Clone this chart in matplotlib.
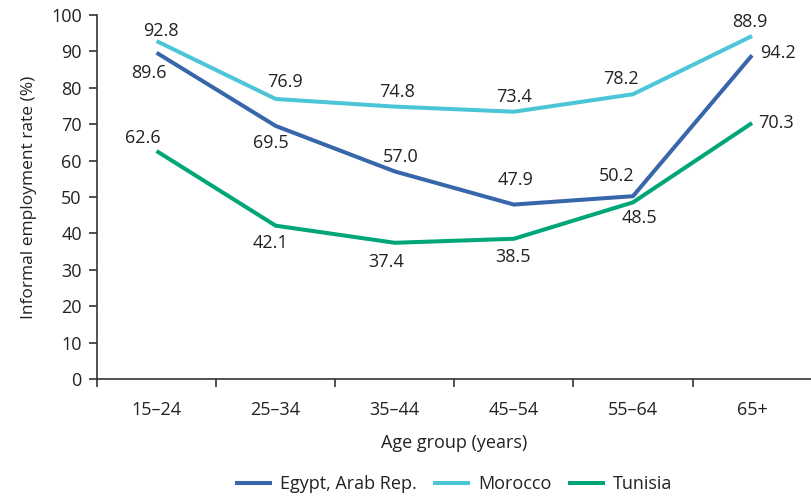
import matplotlib
matplotlib.use("Agg")
import matplotlib.pyplot as plt
import numpy as np

plt.rcParams['font.family'] = ['Open Sans', 'DejaVu Sans']

categories = ["15–24", "25–34", "35–44", "45–54", "55–64", "65+"]
egypt = [89.6, 69.5, 57.0, 47.9, 50.2, 88.9]
morocco = [92.8, 76.9, 74.8, 73.4, 78.2, 94.2]
tunisia = [62.6, 42.1, 37.4, 38.5, 48.5, 70.3]
# Data labels as printed in the reference (65+ labels appear swapped there)
egypt_labels = ["89.6", "69.5", "57.0", "47.9", "50.2", "94.2"]
morocco_labels = ["92.8", "76.9", "74.8", "73.4", "78.2", "88.9"]
tunisia_labels = ["62.6", "42.1", "37.4", "38.5", "48.5", "70.3"]

c_egypt = "#3866aa"
c_morocco = "#4cc6d6"
c_tunisia = "#00a677"
txt = "#222222"

fig = plt.figure(figsize=(8.12, 4.96), dpi=100)
ax = fig.add_axes([0.1195, 0.236, 0.880, 0.734])

x = np.arange(len(categories))
lw = 2.9
ax.plot(x, egypt, color=c_egypt, lw=lw, label="Egypt, Arab Rep.", solid_joinstyle='round', solid_capstyle='butt')
ax.plot(x, morocco, color=c_morocco, lw=lw, label="Morocco", solid_joinstyle='round', solid_capstyle='butt')
ax.plot(x, tunisia, color=c_tunisia, lw=lw, label="Tunisia", solid_joinstyle='round', solid_capstyle='butt')

# offsets in pixels (dx, dy) relative to the point
off_egypt = [(-8, -20), (-5, -17), (6, 14), (2, 25), (-16, 20), (26, 2)]
off_morocco = [(4, 10), (9, 17), (2, 15), (0, 15), (-12, 15), (-2, 14)]
off_tunisia = [(-14, 13), (-5, -17), (-9, -19), (-1, -18), (6, -16), (24, 0)]

fs = 13
for vals, labs, offs in [(egypt, egypt_labels, off_egypt),
                         (morocco, morocco_labels, off_morocco),
                         (tunisia, tunisia_labels, off_tunisia)]:
    for xi, v, lab, (dx, dy) in zip(x, vals, labs, offs):
        ax.annotate(lab, (xi, v), xytext=(dx, dy), textcoords='offset pixels',
                    ha='center', va='center', fontsize=fs, color=txt)

ax.set_xlim(-0.5, len(categories) - 0.5)
ax.set_ylim(0, 100)
ax.set_yticks(np.arange(0, 101, 10))
ax.set_xticks(np.arange(-0.5, len(categories), 1.0))
ax.set_xticklabels([])
ax.set_xticks(x, minor=True)
ax.set_xticklabels(categories, minor=True)
ax.tick_params(axis='x', which='major', length=6, width=1.2, color='#333333', direction='out')
ax.tick_params(axis='x', which='minor', length=0, pad=16, labelsize=fs, labelcolor=txt)
ax.tick_params(axis='y', length=6, width=1.2, color='#333333', labelsize=fs, labelcolor=txt, pad=5)

for s in ['top', 'right']:
    ax.spines[s].set_visible(False)
for s in ['left', 'bottom']:
    ax.spines[s].set_color('#333333')
    ax.spines[s].set_linewidth(1.2)

ax.set_ylabel("Informal employment rate (%)", fontsize=12.5, color=txt, labelpad=10)
ax.set_xlabel("Age group (years)", fontsize=fs, color=txt, labelpad=11)

fig.legend(loc='center', bbox_to_anchor=(0.5585, 0.024), ncol=3, frameon=False,
           fontsize=fs, handlelength=2.05, handletextpad=0.45, columnspacing=0.9,
           labelcolor=txt)

fig.savefig("out.png", dpi=100)
